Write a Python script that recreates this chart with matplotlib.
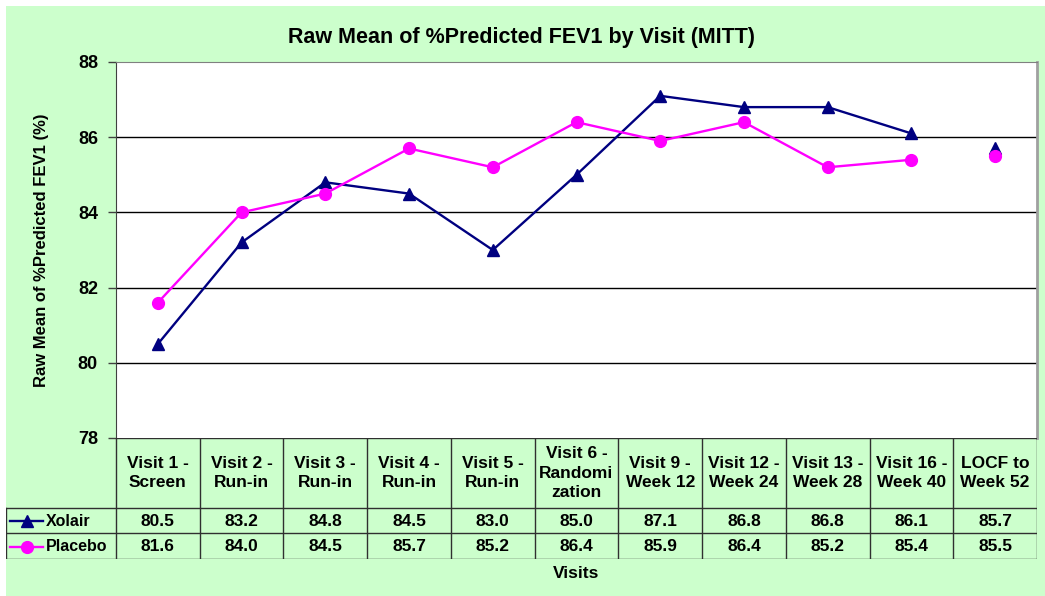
import numpy as np
import matplotlib.pyplot as plt
from matplotlib.patches import Rectangle

plt.rcParams['font.family'] = ['Liberation Sans', 'DejaVu Sans']
plt.rcParams['font.weight'] = 'bold'

visits = ['Visit 1 -\nScreen', 'Visit 2 -\nRun-in', 'Visit 3 -\nRun-in', 'Visit 4 -\nRun-in',
          'Visit 5 -\nRun-in', 'Visit 6 -\nRandomi\nzation', 'Visit 9 -\nWeek 12',
          'Visit 12 -\nWeek 24', 'Visit 13 -\nWeek 28', 'Visit 16 -\nWeek 40', 'LOCF to\nWeek 52']
xolair = [80.5, 83.2, 84.8, 84.5, 83.0, 85.0, 87.1, 86.8, 86.8, 86.1, 85.7]
placebo = [81.6, 84.0, 84.5, 85.7, 85.2, 86.4, 85.9, 86.4, 85.2, 85.4, 85.5]
series = [('Xolair', xolair, '#000080', '^', 8.5), ('Placebo', placebo, '#FF00FF', 'o', 8.5)]

W, H = 1045, 596
fig = plt.figure(figsize=(W / 100, H / 100), dpi=100, facecolor='white')
fig.patches.append(Rectangle((6 / W, 0), 1 - 6 / W, 1 - 6 / H, transform=fig.transFigure,
                             facecolor='#CCFFCC', edgecolor='none', zorder=-10))

# plot area in pixels
pl, pr, pt, pb = 116, 1037, 62, 438
ax = fig.add_axes([pl / W, 1 - pb / H, (pr - pl) / W, (pb - pt) / H])
ax.set_facecolor('white')
n = len(visits)
x = np.arange(n)
ax.set_xlim(-0.5, n - 0.5)
ax.set_ylim(78, 88)
ax.set_yticks([78, 80, 82, 84, 86, 88])
ax.tick_params(axis='y', direction='out', length=6, width=1, color='#404040',
               labelsize=13, pad=7)
ax.tick_params(axis='x', length=0, labelbottom=False)
for v in [80, 82, 84, 86]:
    ax.axhline(v, color='black', lw=1, zorder=1)
ax.spines['left'].set_color('#404040')
ax.spines['top'].set_color('#808080')
ax.spines['right'].set_color('#A0A0A0')
ax.spines['right'].set_linewidth(2)
ax.spines['bottom'].set_visible(False)
for name, vals, col, mk, ms in series:
    ax.plot(x[:-1], vals[:-1], color=col, lw=1.7, marker=mk, ms=ms, zorder=3)
    ax.plot(x[-1:], vals[-1:], color=col, lw=0, marker=mk, ms=ms, zorder=3)
ax.set_ylabel('Raw Mean of %Predicted FEV1 (%)', fontsize=12, fontweight='bold', labelpad=21)

# data table below the plot
tl, tb = 6, 559
colw = (pr - pl) / n
tax = fig.add_axes([tl / W, 1 - tb / H, (pr - tl) / W, (tb - pb) / H])
xmin = -0.5 - (pl - tl) / colw
tax.set_xlim(xmin, n - 0.5)
tax.set_ylim(tb - pb, 0)
tax.axis('off')
lc = '#303030'
tax.plot([-0.5, n - 0.5], [0, 0], color=lc, lw=1)
for yy in [70, 95, 121]:
    tax.plot([xmin, n - 0.5], [yy, yy], color=lc, lw=1)
for k in range(n + 1):
    tax.plot([-0.5 + k, -0.5 + k], [0, 121], color=lc, lw=1)
tax.plot([xmin, xmin], [70, 121], color=lc, lw=1)
for i, lab in enumerate(visits):
    tax.text(i, 35, lab, ha='center', va='center', fontsize=12.5, fontweight='bold',
             linespacing=1.35)
rows_y = [83, 108.5]
for (name, vals, col, mk, ms), yy in zip(series, rows_y):
    for i, v in enumerate(vals):
        tax.text(i, yy, f'{v:.1f}', ha='center', va='center', fontsize=12.5, fontweight='bold')
    lx = xmin + np.array([4, 37]) / colw
    tax.plot(lx, [yy, yy], color=col, lw=1.7)
    tax.plot([lx.mean()], [yy], color=col, marker=mk, ms=ms)
    tax.text(xmin + 40 / colw, yy, name, ha='left', va='center', fontsize=11.5, fontweight='bold')

fig.text((pl + pr) / 2 / W, 1 - 574 / H, 'Visits', ha='center', va='center',
         fontsize=12.5, fontweight='bold')
fig.text(522 / W, 1 - 38 / H, 'Raw Mean of %Predicted FEV1 by Visit (MITT)', ha='center',
         va='center', fontsize=15.5, fontweight='bold')

fig.savefig('out.png', dpi=100, facecolor=fig.get_facecolor())
